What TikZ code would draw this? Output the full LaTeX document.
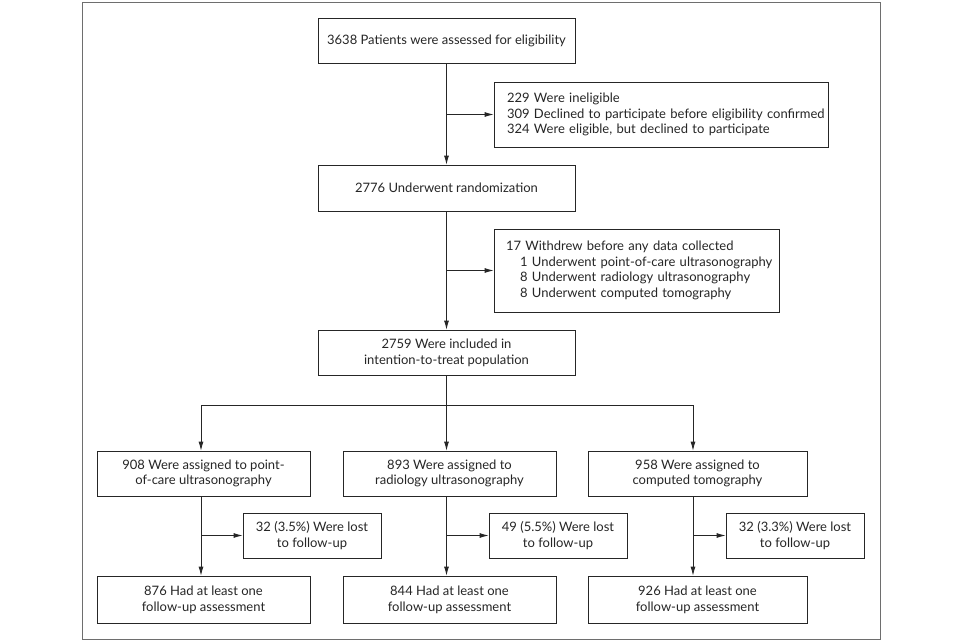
\documentclass[tikz,border=0pt]{standalone}
\usepackage{fontspec}
\setmainfont{Lato}
\usetikzlibrary{arrows.meta,positioning}
\definecolor{ink}{HTML}{262626}
\definecolor{frame}{HTML}{6E6E6E}
\begin{document}
\begin{tikzpicture}[x=1pt,y=-1pt,
  font=\fontsize{13}{15.7}\selectfont,
  box/.style={draw=ink,line width=0.8pt,text=ink,inner sep=0pt,align=center,minimum height=45pt},
  sidebox/.style={draw=ink,line width=0.8pt,text=ink,inner sep=0pt,align=left,minimum height=45pt},
  arr/.style={draw=ink,line width=0.8pt,-{Latex[length=9pt,width=5pt]}},
  ln/.style={draw=ink,line width=0.8pt}]
\useasboundingbox[fill=white] (0,0) rectangle (962,642);
\draw[frame,line width=0.9pt] (82,2) rectangle (880,639);

\node[box,minimum width=257pt] (b1) at (446.5,40.5) {3638 Patients were assessed for eligibility};
\node[sidebox,minimum width=334pt,minimum height=65pt,text width=308pt] (inel) at (661,114.5) {\mbox{229 Were ineligible}\\\mbox{309 Declined to participate before eligibility confirmed}\\\mbox{324 Were eligible, but declined to participate}};
\node[box,minimum width=257pt,minimum height=46pt] (b2) at (446.5,188) {2776 Underwent randomization};
\node[sidebox,minimum width=285pt,minimum height=83pt,text width=261pt] (wd) at (636.5,270.5) {\mbox{17 Withdrew before any data collected}\\\mbox{\hspace*{14pt}1 Underwent point-of-care ultrasonography}\\\mbox{\hspace*{14pt}8 Underwent radiology ultrasonography}\\\mbox{\hspace*{14pt}8 Underwent computed tomography}};
\node[box,minimum width=257pt] (b3) at (446.5,352.5) {2759 Were included in\\intention-to-treat population};

\node[box,minimum width=213pt] (a1) at (203.5,473.5) {908 Were assigned to point-\\of-care ultrasonography};
\node[box,minimum width=213pt] (c1) at (449.5,473.5) {893 Were assigned to\\radiology ultrasonography};
\node[box,minimum width=219pt] (t1) at (697.5,473.5) {958 Were assigned to\\computed tomography};

\node[box,minimum width=138pt] (al) at (312,535.5) {32 (3.5\%) Were lost\\to follow-up};
\node[box,minimum width=138pt] (cl) at (558,535.5) {49 (5.5\%) Were lost\\to follow-up};
\node[box,minimum width=138pt] (tl) at (795,535.5) {32 (3.3\%) Were lost\\to follow-up};

\node[box,minimum width=213pt,minimum height=47pt] (a2) at (203.5,599.5) {876 Had at least one\\follow-up assessment};
\node[box,minimum width=213pt,minimum height=47pt] (c2) at (449.5,599.5) {844 Had at least one\\follow-up assessment};
\node[box,minimum width=219pt,minimum height=47pt] (t2) at (697.5,599.5) {926 Had at least one\\follow-up assessment};

\coordinate (split) at (446.5,405);
\coordinate (colA) at (201,0);
\coordinate (colB) at (446.5,0);
\coordinate (colC) at (693,0);

\draw[arr] (b1.south) -- (b2.north);
\draw[arr] (b1.south |- inel.west) -- (inel.west);
\draw[arr] (b2.south) -- (b3.north);
\draw[arr] (b2.south |- wd.west) -- (wd.west);
\draw[ln] (b3.south) -- (b3.south |- split);
\draw[ln] (colA |- split) -- (colC |- split);
\draw[arr] (colA |- split) -- (colA |- a1.north);
\draw[arr] (colB |- split) -- (colB |- c1.north);
\draw[arr] (colC |- split) -- (colC |- t1.north);

\draw[arr] (colA |- a1.south) -- (colA |- a2.north);
\draw[arr] (colA |- al.west) -- (al.west);
\draw[arr] (colB |- c1.south) -- (colB |- c2.north);
\draw[arr] (colB |- cl.west) -- (cl.west);
\draw[arr] (colC |- t1.south) -- (colC |- t2.north);
\draw[arr] (colC |- tl.west) -- (tl.west);
\end{tikzpicture}
\end{document}
